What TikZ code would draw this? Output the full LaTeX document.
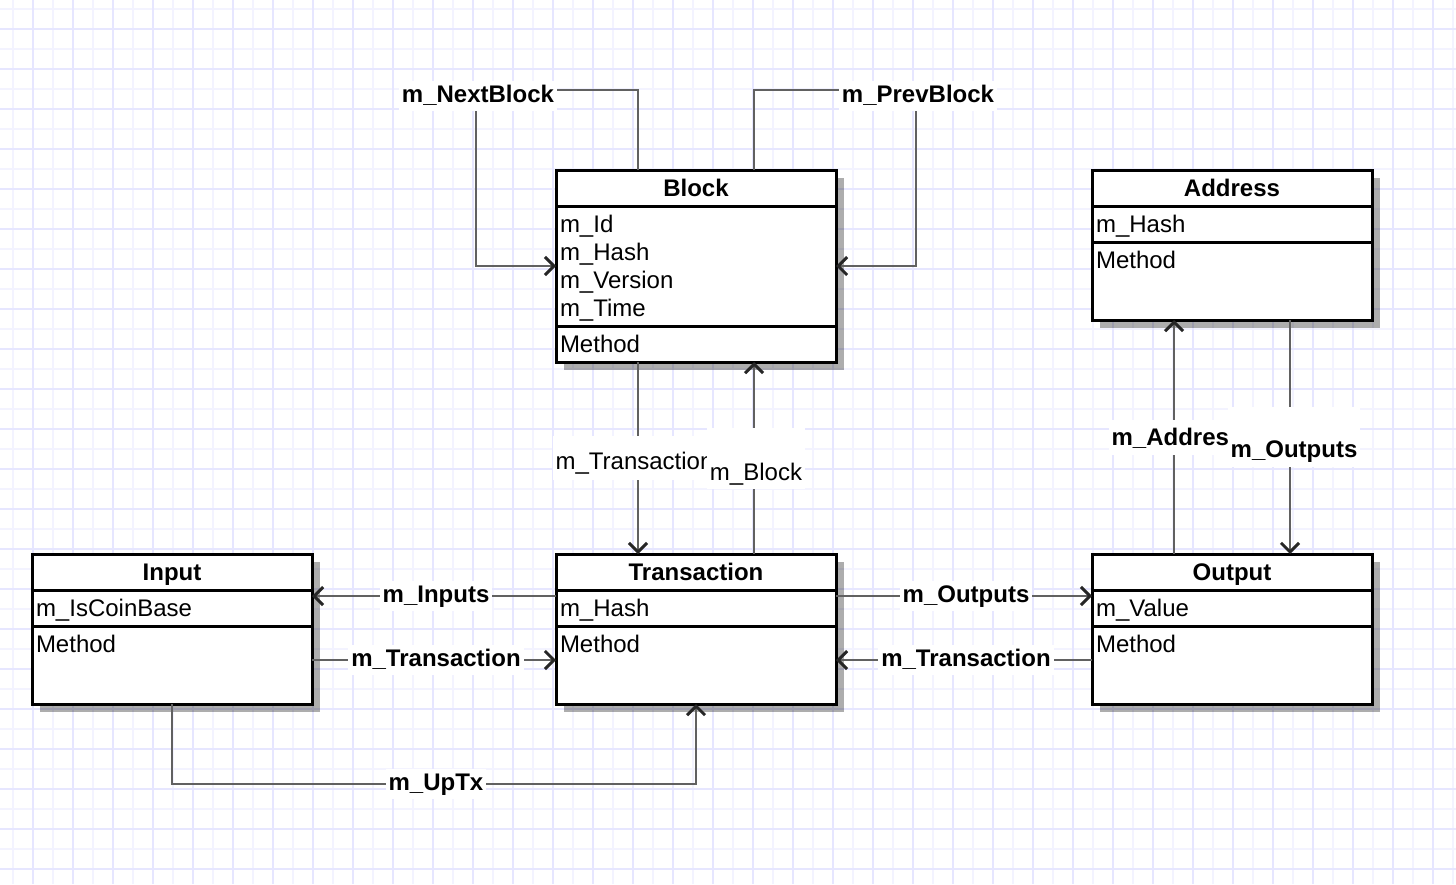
\documentclass[tikz,border=0pt]{standalone}
\usepackage{fontspec}
\setmainfont{Liberation Sans}
\usetikzlibrary{positioning}
\usetikzlibrary{arrows.meta}
\usetikzlibrary{shadows}
\def\dfont{\fontsize{24pt}{28pt}\selectfont}
\definecolor{gridmajor}{HTML}{E6E6FF}
\definecolor{gridminor}{HTML}{F3F3FF}

\begin{document}
\begin{tikzpicture}[x=1pt,y=-1pt,
	hdr/.style={draw=black,line width=3pt,fill=white,minimum width=280pt,text width=272pt,inner xsep=4pt,inner ysep=0pt,text height=26pt,text depth=10pt,outer sep=0pt,align=center,font=\dfont\bfseries,drop shadow={shadow xshift=8pt,shadow yshift=-8pt,fill=black,opacity=0.32}},
	fld/.style={hdr,align=left,font=\dfont},
	conn/.style={draw=black!62,line width=2.6pt,-{Straight Barb[length=9pt,width=18pt,line width=3pt,color=black!85]}},
	lbl/.style={fill=white,inner sep=3pt,text height=18pt,text depth=6pt,font=\dfont\bfseries},
	lblthin/.style={lbl,font=\dfont}]
	\useasboundingbox (0,0) rectangle (1456,884);
	\fill[white] (0,0) rectangle (1456,884);
	% grid
	\foreach \gx in {12.7,52.7,...,1456} \draw[gridminor,line width=2pt] (\gx,0) -- (\gx,884);
	\foreach \gy in {9.3,49.3,...,884} \draw[gridminor,line width=2pt] (0,\gy) -- (1456,\gy);
	\foreach \gx in {32.7,72.7,...,1456} \draw[gridmajor,line width=2pt] (\gx,0) -- (\gx,884);
	\foreach \gy in {29.3,69.3,...,884} \draw[gridmajor,line width=2pt] (0,\gy) -- (1456,\gy);

	% classes
	\node[hdr,anchor=north west] at (556,170) (blk) {Block};
	\node[fld,below=0pt of blk,text depth=94pt] (blk_attr) {m\_Id\\m\_Hash\\m\_Version\\m\_Time};
	\node[fld,below=0pt of blk_attr] (blk_meth) {Method};

	\node[hdr,anchor=north west] at (1092,170) (adr) {Address};
	\node[fld,below=0pt of adr] (adr_attr) {m\_Hash};
	\node[fld,below=0pt of adr_attr,text depth=52pt] (adr_meth) {Method};

	\node[hdr,anchor=north west] at (32,554) (inp) {Input};
	\node[fld,below=0pt of inp] (inp_attr) {m\_IsCoinBase};
	\node[fld,below=0pt of inp_attr,text depth=52pt] (inp_meth) {Method};

	\node[hdr,anchor=north west] at (556,554) (tx) {Transaction};
	\node[fld,below=0pt of tx] (tx_attr) {m\_Hash};
	\node[fld,below=0pt of tx_attr,text depth=52pt] (tx_meth) {Method};

	\node[hdr,anchor=north west] at (1092,554) (out) {Output};
	\node[fld,below=0pt of out] (out_attr) {m\_Value};
	\node[fld,below=0pt of out_attr,text depth=52pt] (out_meth) {Method};

	% links
	\draw[conn] ([xshift=82pt]blk.north west) -- ++(0,-80) -- ++(-162,0) node[lbl,xshift=2pt,yshift=-6pt] {m\_NextBlock} |- (blk_attr.west);
	\draw[conn] ([xshift=-82pt]blk.north east) -- ++(0,-80) -- ++(162,0) node[lbl,xshift=2pt,yshift=-6pt] {m\_PrevBlock} |- (blk_attr.east);
	\draw[conn] ([xshift=82pt]blk_meth.south west) -- node[lblthin,xshift=-3.5pt,text height=30pt,text depth=8pt] {m\_Transaction} ([xshift=82pt]tx.north west);
	\draw[conn] ([xshift=-82pt]tx.north east) -- node[lblthin,xshift=2pt,text height=50pt,text depth=5pt] {m\_Block} ([xshift=-82pt]blk_meth.south east);
	\draw[conn] ([xshift=82pt]out.north west) -- node[lbl,xshift=3pt,text height=23pt,text depth=6pt] {m\_Address} ([xshift=82pt]adr_meth.south west);
	\draw[conn] ([xshift=-82pt]adr_meth.south east) -- node[lbl,xshift=4pt,text height=47pt,text depth=7pt] {m\_Outputs} ([xshift=-82pt]out.north east);

	\draw[conn] ([yshift=-42pt]tx.north west) -- node[lbl,xshift=2pt] {m\_Inputs} ([yshift=-42pt]inp.north east);
	\draw[conn] ([yshift=-106pt]inp.north east) -- node[lbl,xshift=2pt] {m\_Transaction} ([yshift=-106pt]tx.north west);
	\draw[conn] ([yshift=-42pt]tx.north east) -- node[lbl,xshift=2pt] {m\_Outputs} ([yshift=-42pt]out.north west);
	\draw[conn] ([yshift=-106pt]out.north west) -- node[lbl,xshift=2pt] {m\_Transaction} ([yshift=-106pt]tx.north east);
	\draw[conn] (inp_meth.south) -- ++(0,80) -| node[lbl,pos=0.25,xshift=2pt] {m\_UpTx} (tx_meth.south);
\end{tikzpicture}
\end{document}
